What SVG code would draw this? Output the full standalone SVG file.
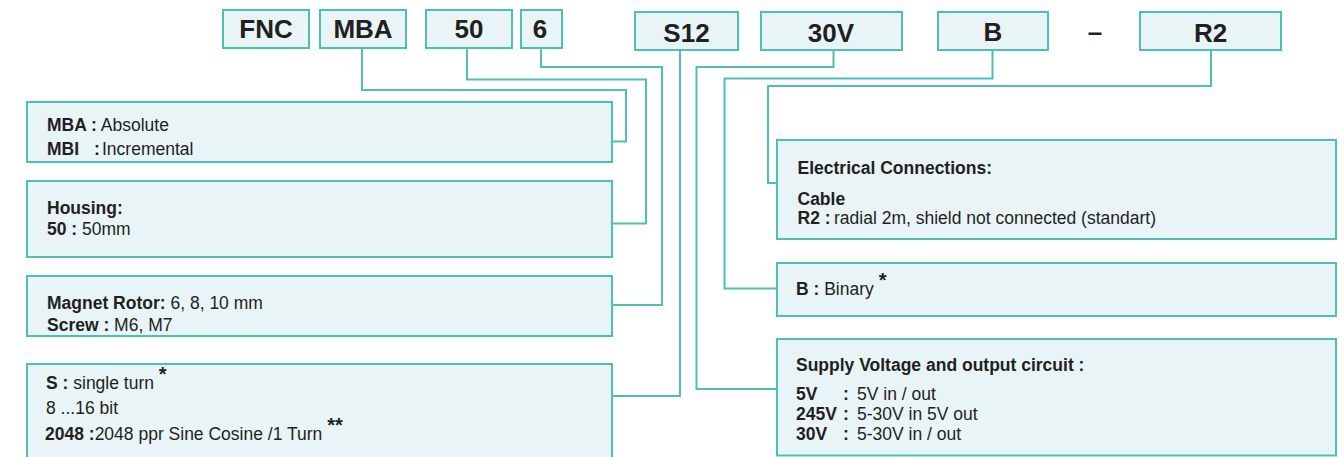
<svg xmlns="http://www.w3.org/2000/svg" width="1344" height="457" viewBox="0 0 1344 457">
<style>
.box{fill:#e8f4f6;stroke:#4dbfb3;stroke-width:2}
.con{fill:none;stroke:#4dbfb3;stroke-width:2}
text{font-family:"Liberation Sans",Arial,sans-serif;fill:#231f20}
.code{font-size:26px;font-weight:bold;text-anchor:middle}
.t{font-size:17.5px}
.b{font-weight:bold}
.ast{font-size:20px;font-weight:bold}
</style>
<rect width="1344" height="457" fill="#ffffff"/>
<g id="connectors">
<polyline class="con" points="362,48 362,90 626,90 626,141.5 612,141.5"/>
<polyline class="con" points="467,48 467,79.5 646,79.5 646,223.5 612,223.5"/>
<polyline class="con" points="541,48 541,67 662,67 662,305 612,305"/>
<polyline class="con" points="680,50 680,396 612,396"/>
<polyline class="con" points="833.5,50 833.5,67 696.5,67 696.5,389 777,389"/>
<polyline class="con" points="992.5,50 992.5,78.5 724.5,78.5 724.5,288.5 777,288.5"/>
<polyline class="con" points="1211,50 1211,86 768,86 768,183 777,183"/>
</g>
<g id="code-FNC"><rect class="box" x="223" y="10" width="86" height="38"/><text class="code" x="266" y="38">FNC</text></g>
<g id="code-MBA"><rect class="box" x="320" y="10" width="86" height="38"/><text class="code" x="363" y="38">MBA</text></g>
<g id="code-50"><rect class="box" x="426" y="10" width="86" height="38"/><text class="code" x="469" y="38">50</text></g>
<g id="code-6"><rect class="box" x="521" y="10" width="41" height="38"/><text class="code" x="540" y="38">6</text></g>
<g id="code-S12"><rect class="box" x="635" y="12" width="103" height="38"/><text class="code" x="686.5" y="41.5">S12</text></g>
<g id="code-30V"><rect class="box" x="761" y="12" width="141" height="38"/><text class="code" x="831" y="41.5">30V</text></g>
<g id="code-B"><rect class="box" x="938" y="12" width="110" height="38"/><text class="code" x="993" y="41">B</text></g>
<g id="dash"><text class="code" x="1095" y="41">–</text></g>
<g id="code-R2"><rect class="box" x="1140" y="12" width="141" height="38"/><text class="code" x="1210.5" y="41.5">R2</text></g>

<g id="desc-MBA"><rect class="box" x="27" y="102" width="585" height="60"/>
<text class="t" x="47" y="131"><tspan class="b">MBA :</tspan> Absolute</text>
<text class="t" x="47" y="154.5"><tspan class="b">MBI</tspan><tspan class="b" x="94">:</tspan><tspan x="102">Incremental</tspan></text>
</g>
<g id="desc-Housing"><rect class="box" x="27" y="181" width="585" height="76"/>
<text class="t b" x="47" y="213.5">Housing:</text>
<text class="t" x="47" y="235"><tspan class="b">50 :</tspan> 50mm</text>
</g>
<g id="desc-Magnet"><rect class="box" x="27" y="276" width="585" height="60"/>
<text class="t" x="47" y="309"><tspan class="b">Magnet Rotor:</tspan> 6, 8, 10 mm</text>
<text class="t" x="47" y="330.5"><tspan class="b">Screw :</tspan> M6, M7</text>
</g>
<g id="desc-S"><rect class="box" x="27" y="364" width="585" height="100"/>
<text class="t" x="46" y="388.5"><tspan class="b">S :</tspan> single turn <tspan class="ast" dy="-8">*</tspan></text>
<text class="t" x="46" y="413.5">8 ...16 bit</text>
<text class="t" x="45" y="439.5"><tspan class="b">2048 :</tspan>2048 ppr Sine Cosine /1 Turn <tspan class="ast" dy="-8">**</tspan></text>
</g>

<g id="desc-Electrical"><rect class="box" x="777" y="140" width="559" height="99"/>
<text class="t b" x="797.5" y="173.5">Electrical Connections:</text>
<text class="t b" x="797.5" y="205">Cable</text>
<text class="t" x="797.5" y="223.5"><tspan class="b">R2 :</tspan><tspan x="834">radial 2m, shield not connected (standart)</tspan></text>
</g>
<g id="desc-B"><rect class="box" x="777" y="263" width="559" height="53"/>
<text class="t" x="796" y="295"><tspan class="b">B :</tspan> Binary <tspan class="ast" dy="-8">*</tspan></text>
</g>
<g id="desc-Supply"><rect class="box" x="777" y="339" width="559" height="116.5"/>
<text class="t b" x="796" y="370.5">Supply Voltage and output circuit :</text>
<text class="t" x="796" y="399.5"><tspan class="b">5V</tspan><tspan class="b" x="843">:</tspan><tspan x="857">5V in / out</tspan></text>
<text class="t" x="796" y="419.5"><tspan class="b">245V</tspan><tspan class="b" x="843">:</tspan><tspan x="857">5-30V in 5V out</tspan></text>
<text class="t" x="796" y="439.5"><tspan class="b">30V</tspan><tspan class="b" x="843">:</tspan><tspan x="857">5-30V in / out</tspan></text>
</g>
</svg>
